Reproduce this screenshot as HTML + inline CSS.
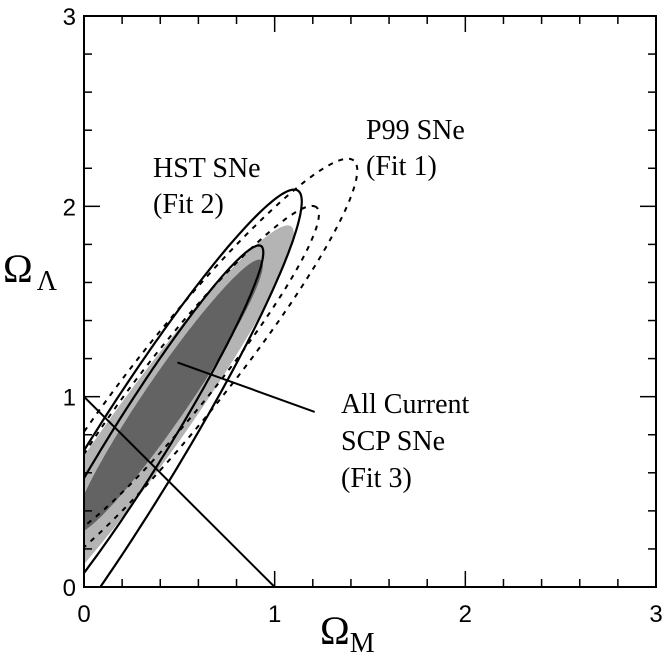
<!DOCTYPE html>
<html><head><meta charset="utf-8"><style>
html,body{margin:0;padding:0;background:#fff;overflow:hidden;width:664px;height:663px;}
svg{display:block;overflow:hidden;}
text{font-family:"Liberation Serif",serif;fill:#000;}
.tk{font-family:"Liberation Sans",sans-serif;font-size:24px;}
</style></head><body>
<svg id="chart" width="664" height="663" viewBox="0 0 664 663" xmlns="http://www.w3.org/2000/svg">
<defs><clipPath id="clip"><rect x="84" y="16" width="572" height="571"/></clipPath></defs>
<g id="marks" clip-path="url(#clip)"></g>
<g id="axes"></g>
<text x="153" y="177" font-size="28">HST SNe</text>
<text x="153" y="213" font-size="28">(Fit 2)</text>
<text x="366" y="139" font-size="28">P99 SNe</text>
<text x="366" y="175" font-size="28">(Fit 1)</text>
<text x="341" y="413" font-size="28">All Current</text>
<text x="341" y="450" font-size="28">SCP SNe</text>
<text x="341" y="487" font-size="28">(Fit 3)</text>
<text x="320" y="644" font-size="40">Ω<tspan font-size="28" dy="8">M</tspan></text>
<text x="3" y="282" font-size="40">Ω<tspan font-size="28" dy="8" dx="4">Λ</tspan></text>
</svg>
<script>
const xTicks=[0,1,2,3];
const yTicks=[0,1,2,3];
// ellipse contours: [centerX, centerY, semiMajor, semiMinor, angleDeg]
const fit3Outer=[0.30,0.80,1.348,0.182,54.3];
const fit3Inner=[0.44,1.00,0.868,0.116,55.7];
const fit2Outer=[0.20,0.60,1.746,0.232,58.15];
const fit2Inner=[0.28,0.75,1.227,0.148,58.1];
const fit1Outer=[0.52,1.12,1.434,0.235,51.4];
const fit1Inner=[0.52,1.12,1.12,0.176,51.4];
const flatLine=[[0,1],[1,0]];
const pointer=[[0.49,1.18],[1.21,0.92]];
const X0=84,X1=656,Y0=587,Y1=16,XMAX=3,YMAX=3;
function sx(v){return X0+(X1-X0)*v/XMAX;}
function sy(v){return Y0-(Y0-Y1)*v/YMAX;}
const NS="http://www.w3.org/2000/svg";
function ell(p){const[cx,cy,a,b,t]=p;const th=t*Math.PI/180;let d="";
for(let i=0;i<=240;i++){const u=i/240*2*Math.PI;const x=cx+a*Math.cos(u)*Math.cos(th)-b*Math.sin(u)*Math.sin(th);const y=cy+a*Math.cos(u)*Math.sin(th)+b*Math.sin(u)*Math.cos(th);d+=(i?"L":"M")+sx(x).toFixed(1)+","+sy(y).toFixed(1);}return d+"Z";}
const marks=document.getElementById("marks");
function add(parent,tag,attrs){const e=document.createElementNS(NS,tag);for(const k in attrs)e.setAttribute(k,attrs[k]);parent.appendChild(e);return e;}
let e;
e=add(marks,"path",{d:ell(fit3Outer),fill:"#b4b4b4",stroke:"none"});


e=add(marks,"path",{d:ell(fit3Inner),fill:"#636363",stroke:"none"});


e=add(marks,"path",{d:ell(fit1Outer),fill:"none",stroke:"#000","stroke-width":2,"stroke-dasharray":"5,6"});


e=add(marks,"path",{d:ell(fit1Inner),fill:"none",stroke:"#000","stroke-width":2,"stroke-dasharray":"5,6"});


e=add(marks,"path",{d:ell(fit2Outer),fill:"none",stroke:"#000","stroke-width":2.2});


e=add(marks,"path",{d:ell(fit2Inner),fill:"none",stroke:"#000","stroke-width":2.2});


e=add(marks,"line",{x1:sx(flatLine[0][0]),y1:sy(flatLine[0][1]),x2:sx(flatLine[1][0]),y2:sy(flatLine[1][1]),stroke:"#000","stroke-width":2});


e=add(marks,"line",{x1:sx(pointer[0][0]),y1:sy(pointer[0][1]),x2:sx(pointer[1][0]),y2:sy(pointer[1][1]),stroke:"#000","stroke-width":2});


const axes=document.getElementById("axes");
e=add(axes,"rect",{x:X0,y:Y1,width:X1-X0,height:Y0-Y1,fill:"none",stroke:"#000","stroke-width":2});


for(let i=0;i<=15;i++){const v=i*0.2;const maj=i%5===0;const L=maj?16:8;
 const x=sx(v),y=sy(v);
 add(axes,"line",{x1:x,y1:Y0,x2:x,y2:Y0-L,stroke:"#000","stroke-width":1.5});
 add(axes,"line",{x1:x,y1:Y1,x2:x,y2:Y1+L,stroke:"#000","stroke-width":1.5});
 add(axes,"line",{x1:X0,y1:y,x2:X0+L,y2:y,stroke:"#000","stroke-width":1.5});
 add(axes,"line",{x1:X1,y1:y,x2:X1-L,y2:y,stroke:"#000","stroke-width":1.5});}
xTicks.forEach(v=>{const t=add(axes,"text",{x:sx(v),y:Y0+35,"text-anchor":"middle",class:"tk"});t.textContent=v;

});
yTicks.forEach(v=>{const t=add(axes,"text",{x:X0-8,y:sy(v)+9,"text-anchor":"end",class:"tk"});t.textContent=v;

});
</script>
</body></html>
